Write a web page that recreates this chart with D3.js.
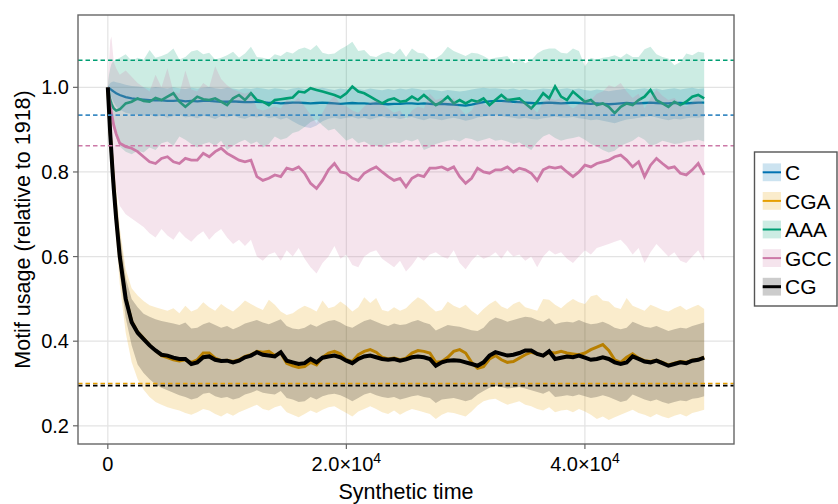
<!DOCTYPE html>
<html>
<head>
<meta charset="utf-8">
<script src="https://cdn.jsdelivr.net/npm/d3@7"></script>
<style>
  body { margin: 0; background: #fff; }
  svg { display: block; }
  text { font-family: "Liberation Sans", "Helvetica", Arial, sans-serif; fill: #000; }
</style>
</head>
<body>
<svg id="chart" width="838" height="504"></svg>
<script>
// Sampling times of the simulation
const time = [
  0,100,200,300,400,500,700,1000,1500,2000,
  2500,3000,3500,4000,4500,5000,5500,6000,6500,7000,
  7500,8000,8500,9000,9500,10000,10500,11000,11500,12000,
  12500,13000,13500,14000,14500,15000,15500,16000,16500,17000,
  17500,18000,18500,19000,19500,20000,20500,21000,21500,22000,
  22500,23000,23500,24000,24500,25000,25500,26000,26500,27000,
  27500,28000,28500,29000,29500,30000,30500,31000,31500,32000,
  32500,33000,33500,34000,34500,35000,35500,36000,36500,37000,
  37500,38000,38500,39000,39500,40000,40500,41000,41500,42000,
  42500,43000,43500,44000,44500,45000,45500,46000,46500,47000,
  47500,48000,48500,49000,49500,50000
];

// Motif "C": mean and spread
const cMean = [
  1.000,0.998,0.996,0.994,0.992,0.990,0.986,0.982,0.977,0.974,
  0.972,0.971,0.970,0.969,0.969,0.968,0.968,0.969,0.967,0.968,
  0.967,0.968,0.968,0.967,0.966,0.966,0.967,0.966,0.965,0.965,
  0.966,0.965,0.963,0.964,0.962,0.963,0.964,0.964,0.963,0.962,
  0.963,0.964,0.963,0.962,0.961,0.962,0.963,0.962,0.962,0.961,
  0.962,0.961,0.960,0.961,0.961,0.962,0.962,0.961,0.962,0.961,
  0.960,0.961,0.960,0.959,0.958,0.957,0.959,0.962,0.965,0.967,
  0.968,0.968,0.967,0.966,0.965,0.964,0.963,0.962,0.963,0.964,
  0.963,0.962,0.963,0.964,0.963,0.962,0.961,0.962,0.961,0.960,
  0.961,0.962,0.963,0.962,0.962,0.963,0.964,0.963,0.962,0.962,
  0.963,0.963,0.962,0.963,0.964,0.964
];
const cLow = [
  1.000,0.992,0.984,0.977,0.970,0.964,0.955,0.947,0.940,0.937,
  0.935,0.933,0.936,0.930,0.934,0.928,0.932,0.935,0.929,0.931,
  0.927,0.933,0.930,0.925,0.932,0.929,0.934,0.928,0.926,0.931,
  0.929,0.933,0.927,0.930,0.924,0.928,0.920,0.912,0.906,0.904,
  0.910,0.920,0.926,0.929,0.925,0.928,0.930,0.926,0.929,0.924,
  0.928,0.931,0.927,0.929,0.925,0.928,0.930,0.926,0.922,0.927,
  0.925,0.922,0.926,0.928,0.925,0.921,0.924,0.929,0.931,0.933,
  0.934,0.932,0.930,0.928,0.926,0.928,0.925,0.924,0.927,0.929,
  0.931,0.929,0.928,0.930,0.927,0.925,0.922,0.924,0.921,0.918,
  0.915,0.920,0.924,0.926,0.928,0.930,0.932,0.929,0.925,0.922,
  0.926,0.924,0.927,0.929,0.928,0.930
];
const cHigh = [
  1.000,1.006,1.010,1.012,1.013,1.014,1.012,1.010,1.006,1.003,
  1.002,1.000,0.998,1.001,0.999,0.997,1.000,0.998,0.996,0.999,
  0.997,0.999,1.001,0.998,0.996,0.999,0.997,0.995,0.998,0.996,
  0.999,0.997,0.995,0.998,0.996,0.994,0.997,0.999,0.996,0.995,
  0.997,0.999,0.996,0.994,0.997,0.995,0.998,0.996,0.994,0.997,
  0.995,0.993,0.996,0.994,0.997,0.995,0.998,0.996,0.993,0.995,
  0.993,0.991,0.994,0.992,0.990,0.992,0.995,0.997,0.999,0.997,
  0.998,0.996,0.995,0.997,0.994,0.996,0.993,0.995,0.997,0.996,
  0.994,0.996,0.998,0.995,0.997,0.994,0.992,0.995,0.993,0.991,
  0.993,0.995,0.997,0.994,0.996,0.998,0.995,0.997,0.994,0.996,
  0.998,0.995,0.997,0.999,0.996,0.998
];

// Motif "CGA"
const cgaMean = [
  1.000,0.946,0.894,0.848,0.803,0.763,0.693,0.603,0.503,0.447,
  0.422,0.407,0.391,0.378,0.366,0.361,0.356,0.353,0.356,0.350,
  0.356,0.372,0.372,0.360,0.354,0.355,0.352,0.356,0.364,0.368,
  0.376,0.374,0.376,0.366,0.372,0.348,0.342,0.338,0.340,0.350,
  0.344,0.362,0.372,0.376,0.370,0.356,0.352,0.368,0.376,0.380,
  0.374,0.362,0.358,0.360,0.356,0.360,0.372,0.378,0.376,0.372,
  0.350,0.352,0.362,0.376,0.380,0.372,0.350,0.336,0.340,0.358,
  0.366,0.356,0.350,0.352,0.360,0.368,0.374,0.370,0.366,0.374,
  0.372,0.376,0.372,0.370,0.368,0.372,0.380,0.386,0.392,0.378,
  0.356,0.350,0.362,0.370,0.360,0.354,0.352,0.355,0.350,0.344,
  0.348,0.352,0.350,0.355,0.357,0.362
];
const cgaLow = [
  1.000,0.925,0.862,0.808,0.760,0.718,0.640,0.535,0.420,0.350,
  0.310,0.285,0.268,0.256,0.250,0.244,0.240,0.236,0.230,0.226,
  0.232,0.240,0.236,0.228,0.222,0.230,0.224,0.232,0.238,0.244,
  0.250,0.240,0.236,0.244,0.248,0.232,0.226,0.220,0.228,0.236,
  0.230,0.238,0.244,0.246,0.238,0.230,0.222,0.234,0.240,0.246,
  0.240,0.232,0.228,0.236,0.226,0.234,0.240,0.236,0.232,0.228,
  0.216,0.226,0.232,0.230,0.226,0.222,0.234,0.248,0.258,0.262,
  0.264,0.256,0.250,0.254,0.258,0.250,0.246,0.240,0.236,0.244,
  0.232,0.236,0.238,0.232,0.240,0.234,0.226,0.216,0.222,0.214,
  0.220,0.226,0.232,0.238,0.230,0.226,0.220,0.228,0.222,0.218,
  0.224,0.228,0.222,0.230,0.234,0.238
];
const cgaHigh = [
  1.000,0.970,0.932,0.896,0.860,0.826,0.762,0.668,0.570,0.525,
  0.508,0.495,0.485,0.480,0.476,0.472,0.478,0.466,0.484,0.470,
  0.476,0.492,0.480,0.472,0.488,0.478,0.470,0.482,0.496,0.488,
  0.480,0.474,0.498,0.486,0.470,0.462,0.466,0.476,0.484,0.478,
  0.470,0.496,0.478,0.482,0.494,0.484,0.470,0.480,0.504,0.490,
  0.502,0.474,0.470,0.480,0.472,0.478,0.492,0.504,0.496,0.482,
  0.470,0.474,0.494,0.484,0.478,0.486,0.472,0.462,0.476,0.488,
  0.496,0.482,0.476,0.488,0.494,0.480,0.476,0.472,0.500,0.498,
  0.486,0.478,0.490,0.500,0.492,0.488,0.506,0.510,0.496,0.494,
  0.480,0.476,0.502,0.484,0.478,0.472,0.486,0.480,0.474,0.470,
  0.478,0.484,0.474,0.480,0.486,0.476
];

// Motif "AAA"
const aaaMean = [
  1.000,0.985,0.970,0.962,0.955,0.950,0.945,0.948,0.962,0.966,
  0.974,0.968,0.966,0.975,0.970,0.978,0.986,0.966,0.954,0.966,
  0.978,0.972,0.970,0.974,0.966,0.958,0.974,0.982,0.970,0.986,
  0.970,0.966,0.958,0.970,0.972,0.974,0.976,0.990,0.988,0.998,
  0.994,0.990,0.986,0.982,0.976,0.986,1.002,0.990,0.986,0.978,
  0.970,0.962,0.970,0.974,0.966,0.968,0.978,0.970,0.982,0.970,
  0.958,0.966,0.978,0.962,0.970,0.962,0.970,0.966,0.974,0.958,
  0.970,0.982,0.970,0.972,0.974,0.962,0.950,0.966,0.986,0.974,
  1.002,0.978,0.970,0.990,0.978,0.966,0.970,0.958,0.962,0.954,
  0.939,0.954,0.962,0.958,0.970,0.978,0.994,0.970,0.962,0.954,
  0.966,0.958,0.966,0.978,0.982,0.974
];
const aaaLow = [
  1.000,0.975,0.950,0.930,0.915,0.900,0.880,0.860,0.848,0.842,
  0.850,0.846,0.858,0.852,0.868,0.872,0.862,0.884,0.876,0.866,
  0.858,0.866,0.870,0.862,0.874,0.852,0.862,0.870,0.876,0.866,
  0.872,0.858,0.866,0.884,0.876,0.880,0.892,0.896,0.906,0.918,
  0.924,0.910,0.898,0.902,0.888,0.874,0.880,0.868,0.872,0.864,
  0.862,0.858,0.866,0.870,0.868,0.876,0.872,0.878,0.852,0.858,
  0.866,0.870,0.874,0.876,0.872,0.880,0.878,0.872,0.876,0.880,
  0.874,0.876,0.872,0.866,0.870,0.860,0.852,0.870,0.884,0.890,
  0.880,0.874,0.878,0.880,0.884,0.876,0.866,0.860,0.852,0.846,
  0.850,0.862,0.868,0.874,0.884,0.876,0.862,0.866,0.874,0.870,
  0.866,0.868,0.872,0.874,0.876,0.872
];
const aaaHigh = [
  1.000,1.030,1.045,1.055,1.060,1.062,1.065,1.070,1.078,1.062,
  1.070,1.065,1.088,1.070,1.074,1.080,1.092,1.066,1.072,1.085,
  1.088,1.078,1.082,1.066,1.070,1.076,1.084,1.070,1.080,1.096,
  1.072,1.070,1.066,1.078,1.074,1.084,1.080,1.090,1.094,1.088,
  1.100,1.082,1.078,1.080,1.090,1.098,1.108,1.086,1.088,1.074,
  1.072,1.080,1.084,1.078,1.092,1.072,1.092,1.082,1.080,1.066,
  1.068,1.078,1.096,1.086,1.080,1.074,1.082,1.080,1.074,1.066,
  1.070,1.072,1.074,1.057,1.068,1.057,1.064,1.080,1.088,1.092,
  1.092,1.082,1.080,1.092,1.086,1.050,1.070,1.065,1.070,1.072,
  1.076,1.070,1.080,1.072,1.072,1.090,1.096,1.078,1.072,1.068,
  1.052,1.060,1.080,1.076,1.084,1.082
];

// Motif "GCC"
const gccMean = [
  1.000,0.975,0.955,0.940,0.925,0.910,0.890,0.868,0.860,0.856,
  0.848,0.836,0.824,0.820,0.832,0.836,0.824,0.820,0.832,0.828,
  0.828,0.844,0.836,0.848,0.856,0.844,0.836,0.828,0.824,0.828,
  0.789,0.780,0.785,0.793,0.789,0.809,0.805,0.812,0.797,0.773,
  0.761,0.780,0.805,0.820,0.800,0.797,0.785,0.780,0.797,0.805,
  0.812,0.800,0.789,0.780,0.785,0.765,0.785,0.793,0.789,0.809,
  0.809,0.812,0.805,0.812,0.789,0.773,0.785,0.809,0.800,0.797,
  0.805,0.805,0.812,0.800,0.809,0.805,0.797,0.780,0.805,0.812,
  0.809,0.812,0.800,0.789,0.800,0.816,0.812,0.820,0.824,0.828,
  0.836,0.840,0.828,0.812,0.824,0.789,0.816,0.832,0.820,0.809,
  0.812,0.797,0.793,0.805,0.820,0.793
];
const gccLow = [
  1.000,0.930,0.880,0.840,0.810,0.790,0.760,0.720,0.700,0.690,
  0.680,0.670,0.655,0.645,0.665,0.650,0.640,0.660,0.645,0.635,
  0.650,0.660,0.640,0.655,0.665,0.645,0.630,0.640,0.625,0.640,
  0.600,0.590,0.605,0.610,0.590,0.615,0.600,0.620,0.595,0.575,
  0.560,0.585,0.600,0.625,0.595,0.605,0.580,0.575,0.600,0.610,
  0.615,0.595,0.585,0.575,0.590,0.565,0.580,0.600,0.590,0.605,
  0.610,0.600,0.595,0.615,0.585,0.570,0.590,0.605,0.595,0.600,
  0.610,0.595,0.615,0.600,0.605,0.590,0.600,0.575,0.600,0.615,
  0.605,0.610,0.595,0.585,0.600,0.615,0.605,0.620,0.625,0.630,
  0.635,0.640,0.625,0.605,0.620,0.585,0.610,0.630,0.615,0.600,
  0.610,0.590,0.585,0.600,0.615,0.590
];
const gccHigh = [
  1.000,1.060,1.110,1.120,1.090,1.060,1.045,1.030,1.040,1.025,
  1.010,1.000,0.990,1.030,1.000,1.045,0.990,0.985,1.040,0.995,
  0.990,1.010,1.000,1.050,1.020,1.005,0.995,0.990,0.985,0.990,
  0.950,0.945,0.950,0.955,0.950,0.970,0.965,0.975,0.955,0.935,
  0.915,0.940,0.965,0.980,0.960,0.955,0.945,0.940,0.955,0.965,
  0.970,0.960,0.950,0.940,0.945,0.925,0.945,0.955,0.950,0.985,
  0.970,0.975,0.965,0.975,0.950,0.935,0.945,0.970,0.960,0.955,
  0.965,0.965,0.975,0.960,0.970,0.965,0.955,0.940,0.965,0.975,
  0.970,0.975,0.960,0.950,0.960,0.975,0.970,0.985,0.990,1.005,
  1.000,1.010,0.990,0.975,0.985,0.950,0.975,0.995,0.980,0.970,
  0.975,0.960,0.955,0.965,0.980,0.955
];

// Motif "CG"
const cgMean = [
  1.000,0.945,0.892,0.845,0.800,0.760,0.690,0.600,0.500,0.445,
  0.420,0.405,0.390,0.378,0.368,0.366,0.361,0.358,0.358,0.346,
  0.350,0.362,0.364,0.356,0.353,0.354,0.350,0.354,0.362,0.366,
  0.374,0.368,0.366,0.364,0.374,0.354,0.350,0.346,0.348,0.358,
  0.350,0.361,0.364,0.366,0.362,0.354,0.348,0.358,0.364,0.366,
  0.362,0.358,0.356,0.358,0.354,0.357,0.362,0.364,0.362,0.358,
  0.342,0.350,0.354,0.355,0.354,0.350,0.346,0.342,0.350,0.366,
  0.374,0.370,0.366,0.368,0.372,0.378,0.378,0.370,0.366,0.376,
  0.358,0.361,0.364,0.362,0.366,0.361,0.356,0.358,0.362,0.358,
  0.350,0.346,0.350,0.364,0.358,0.352,0.350,0.354,0.348,0.342,
  0.346,0.350,0.348,0.354,0.356,0.361
];
const cgLow = [
  1.000,0.930,0.870,0.820,0.775,0.735,0.660,0.560,0.455,0.390,
  0.345,0.325,0.310,0.298,0.290,0.284,0.278,0.272,0.268,0.262,
  0.266,0.276,0.278,0.270,0.266,0.268,0.262,0.266,0.274,0.278,
  0.284,0.278,0.276,0.274,0.282,0.266,0.262,0.256,0.258,0.268,
  0.262,0.270,0.274,0.276,0.272,0.266,0.258,0.266,0.274,0.278,
  0.272,0.268,0.266,0.268,0.262,0.266,0.270,0.272,0.268,0.266,
  0.254,0.262,0.264,0.266,0.262,0.258,0.262,0.274,0.282,0.290,
  0.294,0.292,0.288,0.290,0.292,0.288,0.284,0.280,0.276,0.282,
  0.268,0.270,0.272,0.270,0.274,0.270,0.266,0.268,0.272,0.268,
  0.262,0.256,0.260,0.274,0.268,0.262,0.258,0.262,0.256,0.252,
  0.256,0.260,0.258,0.264,0.266,0.270
];
const cgHigh = [
  1.000,0.965,0.925,0.888,0.850,0.815,0.750,0.655,0.550,0.500,
  0.480,0.465,0.458,0.452,0.448,0.445,0.442,0.438,0.444,0.430,
  0.432,0.440,0.445,0.438,0.432,0.436,0.428,0.434,0.442,0.446,
  0.450,0.444,0.440,0.446,0.452,0.436,0.430,0.428,0.432,0.440,
  0.434,0.442,0.448,0.450,0.444,0.436,0.432,0.440,0.448,0.452,
  0.446,0.440,0.436,0.442,0.438,0.440,0.446,0.450,0.444,0.440,
  0.425,0.432,0.438,0.436,0.434,0.430,0.426,0.424,0.432,0.448,
  0.456,0.452,0.446,0.450,0.454,0.458,0.456,0.450,0.446,0.454,
  0.440,0.444,0.446,0.444,0.450,0.444,0.440,0.442,0.446,0.440,
  0.432,0.428,0.432,0.446,0.440,0.434,0.432,0.436,0.430,0.424,
  0.428,0.432,0.430,0.436,0.440,0.444
];

// Reference levels (dashed)
const refNames  = ["AAA", "C", "GCC", "CGA", "CG"];
const refLevels = [1.064, 0.9345, 0.862, 0.300, 0.295];

const motifNames = ["C", "CGA", "AAA", "GCC", "CG"];
const motifColors = ["#0072B2", "#E69F00", "#009E73", "#CC79A7", "#000000"];

const xTicks = [0, 20000, 40000];
const xTickMantissa = ["0", "2.0×10", "4.0×10"];
const xTickExponent = ["", "4", "4"];
const yTicks = [0.2, 0.4, 0.6, 0.8, 1.0];
const yTickLabels = ["0.2", "0.4", "0.6", "0.8", "1.0"];

// ---- layout ----
const svg = d3.select("#chart");
const frame = { left: 78, right: 734, top: 15, bottom: 444 };

const x = d3.scaleLinear().domain([-2500, 52500]).range([frame.left, frame.right]);
const y = d3.scaleLinear().domain([0.157, 1.171]).range([frame.bottom, frame.top]);

const series = [
  { name: "C",   mean: cMean,   low: cLow,   high: cHigh,   width: 2.3 },
  { name: "CGA", mean: cgaMean, low: cgaLow, high: cgaHigh, width: 3.0 },
  { name: "AAA", mean: aaaMean, low: aaaLow, high: aaaHigh, width: 2.6 },
  { name: "GCC", mean: gccMean, low: gccLow, high: gccHigh, width: 2.8 },
  { name: "CG",  mean: cgMean,  low: cgLow,  high: cgHigh,  width: 4.0 }
];
series.forEach(s => { s.color = motifColors[motifNames.indexOf(s.name)]; });

const refStyle = {
  AAA: { c: "#009E73", w: 1.4 },
  C:   { c: "#3d8cc4", w: 1.8 },
  GCC: { c: "#CC79A7", w: 1.3 },
  CGA: { c: "#E69F00", w: 1.6 },
  CG:  { c: "#000000", w: 1.6 }
};

// grid
const grid = svg.append("g");
grid.selectAll("line.gx").data(xTicks).join("line")
  .attr("x1", d => x(d)).attr("x2", d => x(d))
  .attr("y1", frame.top).attr("y2", frame.bottom)
  .attr("stroke", "#e3e3e3").attr("stroke-width", 1.2);
grid.selectAll("line.gy").data(yTicks).join("line")
  .attr("y1", d => y(d)).attr("y2", d => y(d))
  .attr("x1", frame.left).attr("x2", frame.right)
  .attr("stroke", "#e3e3e3").attr("stroke-width", 1.2);

svg.append("clipPath").attr("id", "plotclip").append("rect")
  .attr("x", frame.left).attr("y", frame.top)
  .attr("width", frame.right - frame.left).attr("height", frame.bottom - frame.top);

const plot = svg.append("g").attr("clip-path", "url(#plotclip)");

const band = d3.area()
  .x((d, i) => x(time[i]))
  .y0(d => y(d[0]))
  .y1(d => y(d[1]));
const line = d3.line()
  .x((d, i) => x(time[i]))
  .y(d => y(d));

// bands and mean lines, one motif after another
series.forEach(s => {
  const pairs = s.low.map((v, i) => [v, s.high[i]]);
  plot.append("path").datum(pairs)
    .attr("d", band)
    .attr("fill", s.color).attr("fill-opacity", 0.2).attr("stroke", "none");
  plot.append("path").datum(s.mean)
    .attr("d", line)
    .attr("fill", "none").attr("stroke", s.color)
    .attr("stroke-width", s.width).attr("stroke-linejoin", "miter");
});

// dashed reference levels
plot.selectAll("line.ref").data(refLevels).join("line")
  .attr("x1", frame.left).attr("x2", frame.right)
  .attr("y1", d => y(d)).attr("y2", d => y(d))
  .attr("stroke", (d, i) => refStyle[refNames[i]].c)
  .attr("stroke-width", (d, i) => refStyle[refNames[i]].w)
  .attr("stroke-dasharray", "4.5,3");

// frame
svg.append("rect")
  .attr("x", frame.left).attr("y", frame.top)
  .attr("width", frame.right - frame.left).attr("height", frame.bottom - frame.top)
  .attr("fill", "none").attr("stroke", "#666").attr("stroke-width", 1.4);

// ticks
svg.selectAll("line.xt").data(xTicks).join("line")
  .attr("x1", d => x(d)).attr("x2", d => x(d))
  .attr("y1", frame.bottom).attr("y2", frame.bottom + 5)
  .attr("stroke", "#666").attr("stroke-width", 1.2);
svg.selectAll("line.yt").data(yTicks).join("line")
  .attr("y1", d => y(d)).attr("y2", d => y(d))
  .attr("x1", frame.left).attr("x2", frame.left - 5)
  .attr("stroke", "#666").attr("stroke-width", 1.2);

// tick labels
const xl = svg.selectAll("text.xl").data(xTicks).join("text")
  .attr("x", d => x(d)).attr("y", 471)
  .attr("text-anchor", "middle").attr("font-size", 20);
xl.append("tspan").text((d, i) => xTickMantissa[i]);
xl.append("tspan").attr("font-size", 14).attr("dy", -8).text((d, i) => xTickExponent[i]);

svg.selectAll("text.yl").data(yTicks).join("text")
  .attr("x", 69).attr("y", d => y(d) + 7)
  .attr("text-anchor", "end").attr("font-size", 20)
  .text((d, i) => yTickLabels[i]);

// axis titles
svg.append("text")
  .attr("x", (frame.left + frame.right) / 2).attr("y", 499)
  .attr("text-anchor", "middle").attr("font-size", 21.5)
  .text("Synthetic time");
svg.append("text")
  .attr("transform", `translate(30,${(frame.top + frame.bottom) / 2}) rotate(-90)`)
  .attr("text-anchor", "middle").attr("font-size", 21.5)
  .text("Motif usage (relative to 1918)");

// legend
const legend = svg.append("g");
legend.append("rect")
  .attr("x", 754.5).attr("y", 152).attr("width", 82.5).attr("height", 154)
  .attr("fill", "#fff").attr("stroke", "#555").attr("stroke-width", 1.4);
const rows = legend.selectAll("g.row").data(motifNames).join("g")
  .attr("transform", (d, i) => `translate(0,${172.3 + i * 28.6})`);
rows.append("rect")
  .attr("x", 762.7).attr("y", -8.9).attr("width", 18.3).attr("height", 17.8)
  .attr("fill", (d, i) => motifColors[i]).attr("fill-opacity", 0.2);
rows.append("line")
  .attr("x1", 762.7).attr("x2", 781).attr("y1", 0).attr("y2", 0)
  .attr("stroke", (d, i) => motifColors[i])
  .attr("stroke-width", d => d === "CG" ? 3 : 2);
rows.append("text")
  .attr("x", 785).attr("y", 7.6).attr("font-size", 21)
  .text(d => d);
</script>
</body>
</html>
